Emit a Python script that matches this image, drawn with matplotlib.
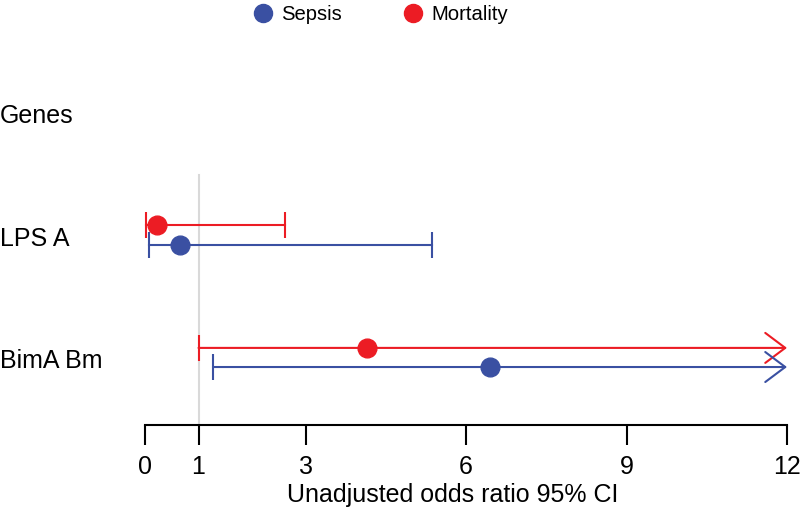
import numpy as np
import matplotlib
matplotlib.use('Agg')
import matplotlib.pyplot as plt
from matplotlib.lines import Line2D

plt.rcParams['font.family'] = ['Liberation Sans', 'DejaVu Sans']

genes = ['LPS A', 'BimA Bm']
# odds ratios with 95% CI; inf = runs off the right end of the scale
sepsis_or = [0.65, 6.44]
sepsis_lo = [0.08, 1.27]
sepsis_hi = [5.36, np.inf]
mort_or = [0.22, 4.15]
mort_lo = [0.01, 1.0]
mort_hi = [2.62, np.inf]
xticks = [0, 1, 3, 6, 9, 12]

blue = '#3A50A2'
red = '#EC1C24'
x_max = 12
row_y = [2, 1]
offset = 0.078

fig = plt.figure(figsize=(8, 5.12), dpi=100)
ax = fig.add_axes([0, 0.17, 1, 0.83])
ax.set_xlim(-145 / 53.5, 12 + 13 / 53.5)
ax.set_ylim(0.449, 3.918)

# reference line at OR = 1
ax.plot([1, 1], [0.449, 2.49], color='#d9d9d9', lw=1.5, zorder=0)


def draw_series(ors, los, his, y, color):
    for o, lo, hi, yy in zip(ors, los, his, y):
        if np.isfinite(hi):
            ax.plot([lo, hi], [yy, yy], color=color, lw=1.5)
            ax.plot([lo, hi], [yy, yy], ls='none', marker='|', ms=19,
                    mew=1.5, color=color)
        else:
            ax.annotate('', xy=(x_max, yy), xytext=(lo, yy),
                        arrowprops=dict(arrowstyle='->,head_length=1.44,head_width=1.08',
                                        color=color, lw=1.5, shrinkA=0, shrinkB=0,
                                        mutation_scale=10))
            ax.plot([lo], [yy], ls='none', marker='|', ms=19, mew=1.5, color=color)
        ax.plot([o], [yy], ls='none', marker='o', ms=13.5, color=color, zorder=5)


draw_series(mort_or, mort_lo, mort_hi, [r + offset for r in row_y], red)
draw_series(sepsis_or, sepsis_lo, sepsis_hi, [r - offset for r in row_y], blue)

# row labels
ax.text(0.0, 2.967, 'Genes', transform=ax.get_yaxis_transform(),
        fontsize=18, va='center', ha='left')
label_y = [1.967, 0.975]
for g, yy in zip(genes, label_y):
    ax.text(0.0, yy, g, transform=ax.get_yaxis_transform(),
            fontsize=18, va='center', ha='left')

for s in ['top', 'left', 'right']:
    ax.spines[s].set_visible(False)
ax.spines['bottom'].set_bounds(0, 12)
ax.spines['bottom'].set_linewidth(1.5)
ax.set_yticks([])
ax.set_xticks(xticks)
ax.set_xticklabels([str(t) for t in xticks])
ax.tick_params(axis='x', length=14.4, width=1.5, pad=7, labelsize=18)
ax.set_xlabel('Unadjusted odds ratio 95% CI', fontsize=18)
ax.xaxis.set_label_coords(453 / 800, -58 / 425)

handles = [Line2D([], [], ls='none', marker='o', ms=13, color=blue, label='Sepsis'),
           Line2D([], [], ls='none', marker='o', ms=13, color=red, label='Mortality')]
fig.legend(handles=handles, loc='upper center', bbox_to_anchor=(0.474, 1.025),
           ncol=2, frameon=False, fontsize=14.6, handletextpad=0.3,
           columnspacing=2.9, handlelength=1.2)

fig.savefig('out.png', dpi=100)
